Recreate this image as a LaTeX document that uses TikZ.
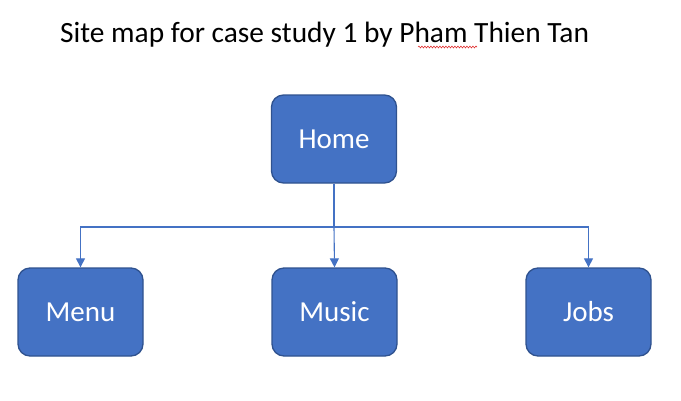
\documentclass[tikz,border=0pt]{standalone}
\usepackage{fontspec}
\setmainfont{Carlito}
\usetikzlibrary{arrows.meta,decorations.pathmorphing}
\definecolor{boxfill}{HTML}{4472C4}
\definecolor{boxedge}{HTML}{2F528F}
\definecolor{spell}{HTML}{E03030}
\begin{document}
\begin{tikzpicture}[x=1pt,y=-1pt,
  pagebox/.style={draw=boxedge,line width=1.3pt,fill=boxfill,rounded corners=12pt,
    minimum width=125pt,minimum height=88pt,inner sep=0pt,text=white,
    font=\fontsize{29}{32}\selectfont},
  link/.style={draw=boxfill,line width=1.1pt},
  tip/.style={-{Triangle[length=9pt,width=9pt]}}]
\useasboundingbox (0,0) rectangle (681,400);
\node[anchor=base west,inner sep=0pt,font=\fontsize{29.4}{32}\selectfont] (title) at (60,42) {Site map for case study 1 by Pham Thien Tan};
\draw[spell,line width=0.6pt,decorate,decoration={snake,amplitude=0.9pt,segment length=3pt}] (418,47) -- (477,47);
\node[pagebox] (home) at (334,139) {Home};
\node[pagebox] (menu) at (80.5,312) {Menu};
\node[pagebox] (music) at (334.5,312) {Music};
\node[pagebox] (jobs) at (588.5,312) {Jobs};
\coordinate (split) at (334,227);
\draw[link] (home.south) -- (split);
\draw[link,tip] (split) -| (menu.north);
\draw[link,tip] (split) -- (music.north);
\draw[link,tip] (split) -| (jobs.north);
\end{tikzpicture}
\end{document}
